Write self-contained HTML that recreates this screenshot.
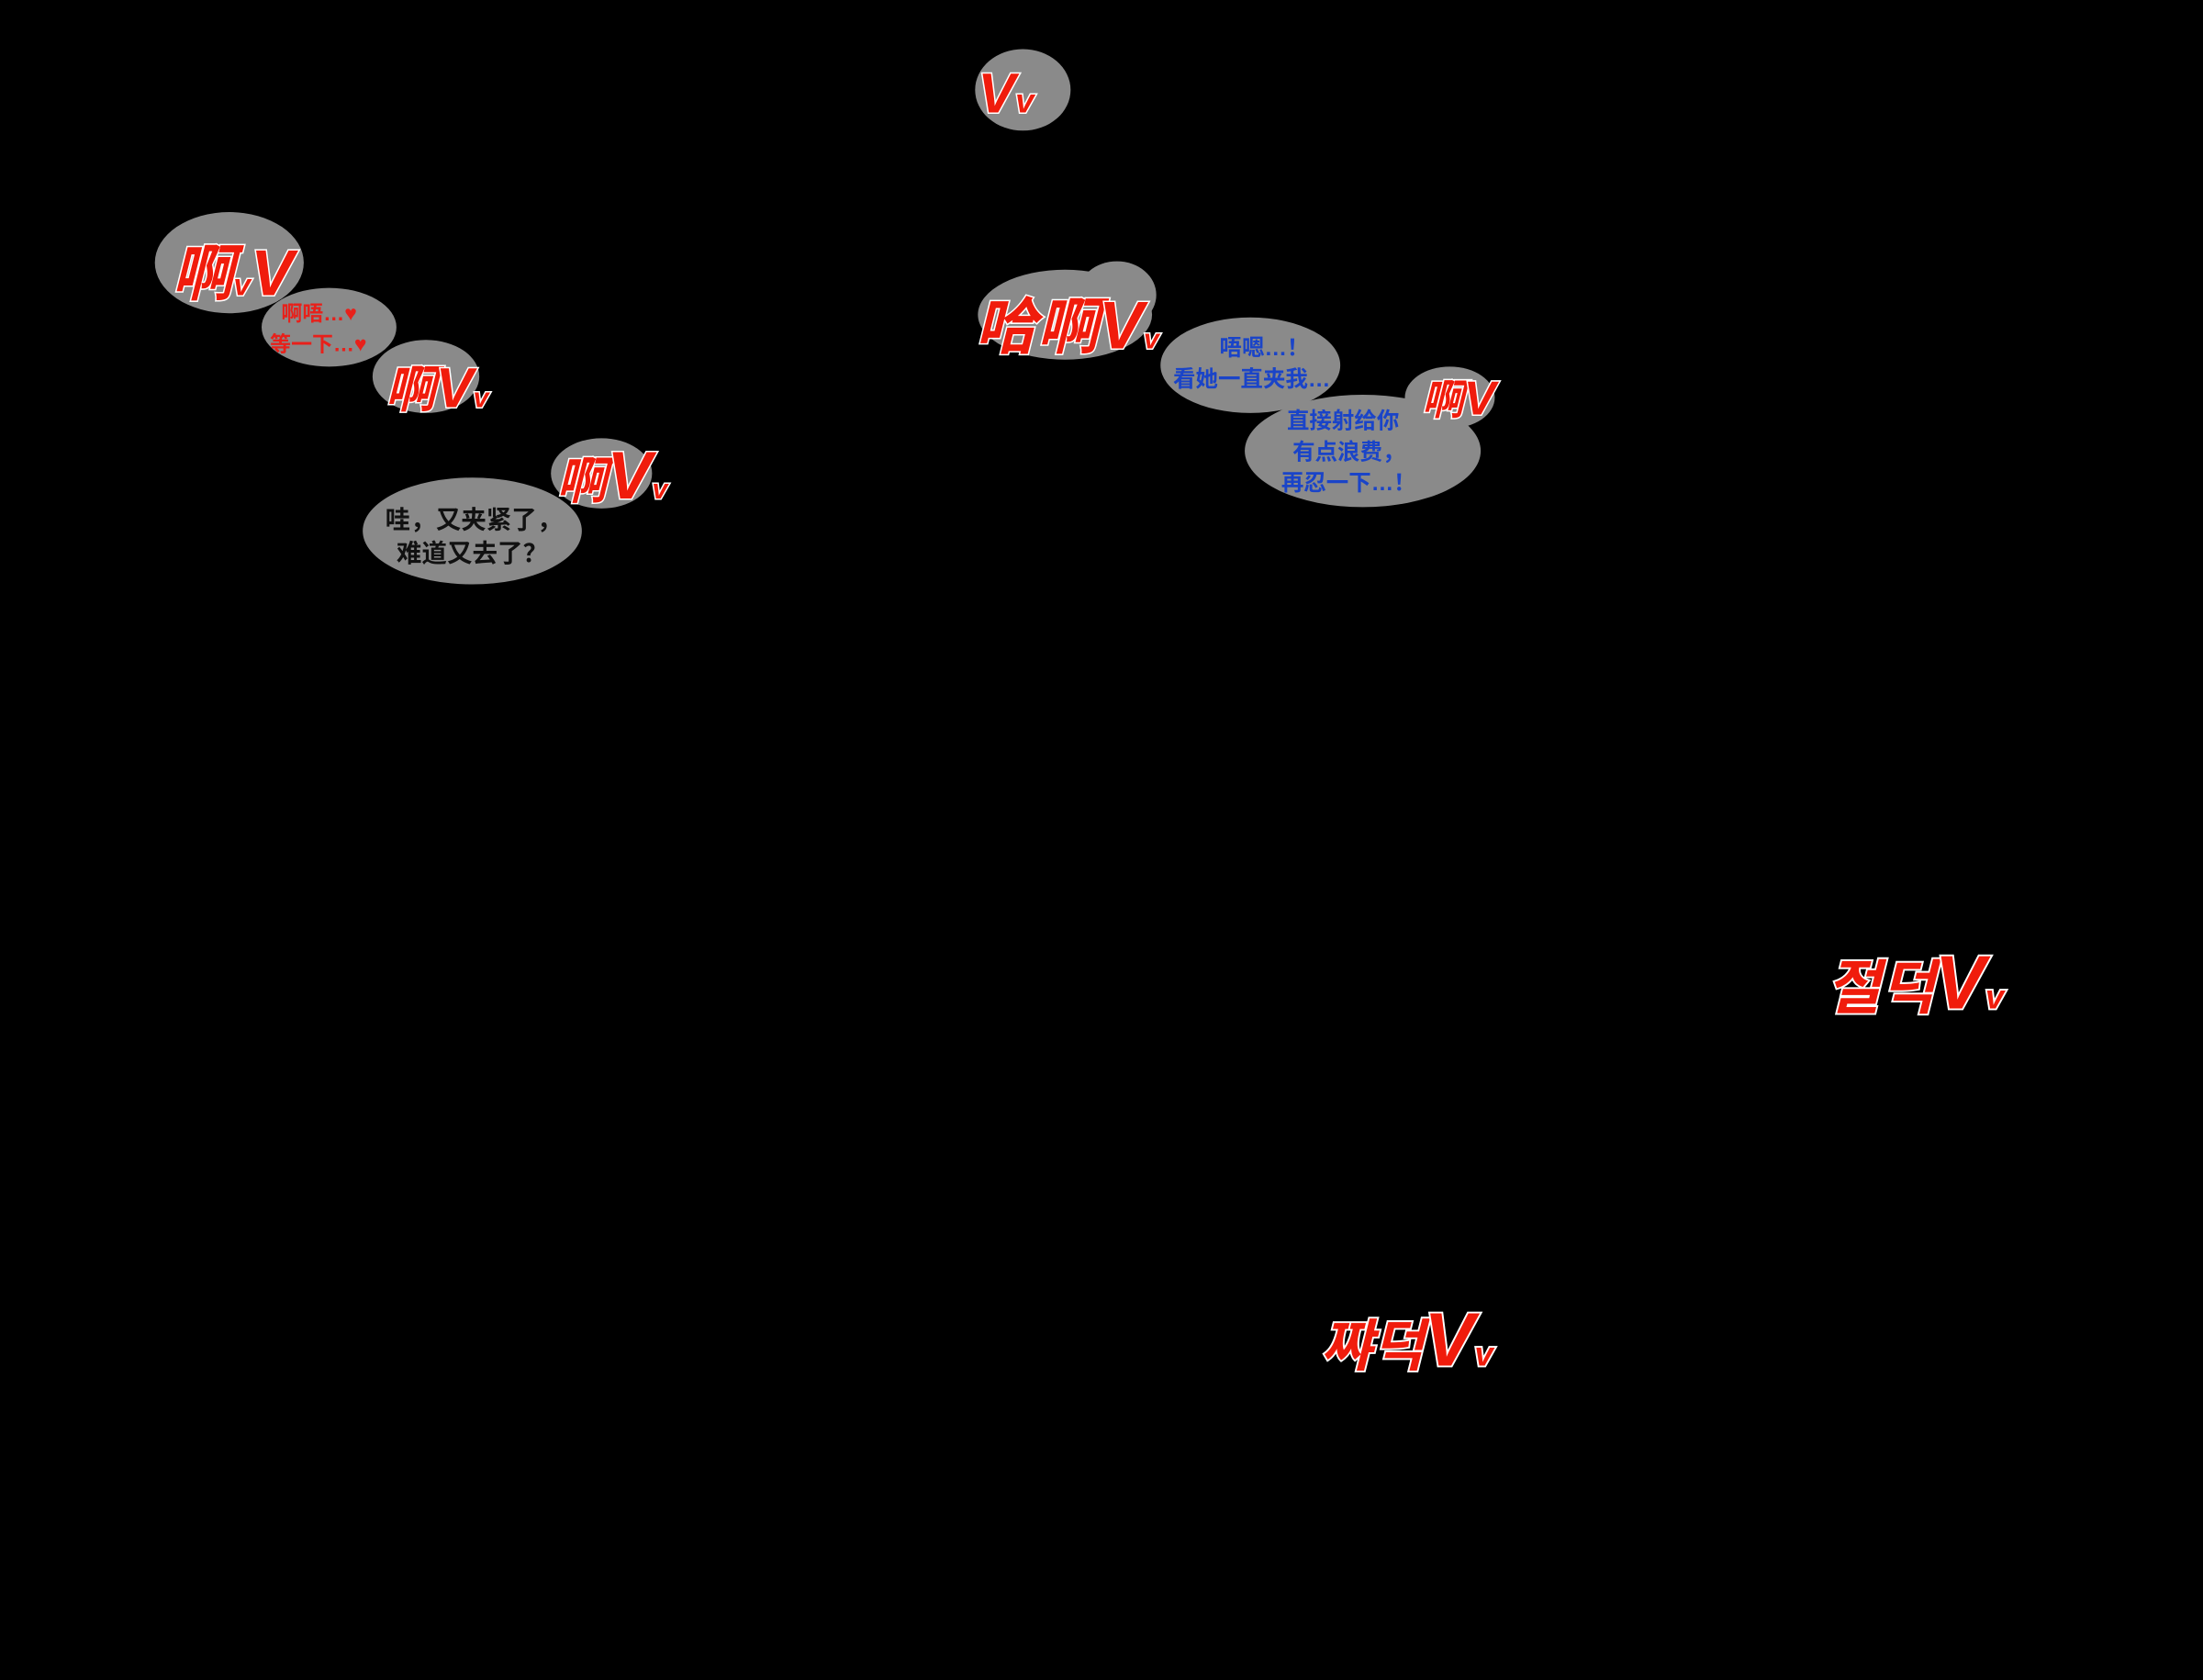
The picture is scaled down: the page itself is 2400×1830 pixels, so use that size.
<!DOCTYPE html>
<html><head><meta charset="utf-8">
<style>
html,body{margin:0;padding:0;background:#000;}
svg{display:block;}
.sfx{font-family:"Liberation Sans","Noto Sans CJK SC",sans-serif;font-weight:bold;fill:#f01c0c;stroke:#fff;stroke-width:2;paint-order:stroke;font-style:italic;}
.kr{font-family:"Liberation Sans","Noto Sans CJK KR",sans-serif;font-weight:bold;fill:#f01c0c;stroke:#fff;stroke-width:2.5;paint-order:stroke;font-style:italic;}
.red{font-family:"Liberation Sans","Noto Sans CJK SC",sans-serif;font-weight:bold;fill:#e8201a;font-size:15px;}
.blk{font-family:"Liberation Sans","Noto Sans CJK SC",sans-serif;font-weight:bold;fill:#111;font-size:18px;}
.blu{font-family:"Liberation Sans","Noto Sans CJK SC",sans-serif;font-weight:bold;fill:#1a44c8;font-size:16px;}
</style></head>
<body>
<svg width="2400" height="1830" viewBox="0 0 1568 1196" xmlns="http://www.w3.org/2000/svg">
<rect width="1568" height="1196" fill="#000"/>
<g fill="#8a8a8a">
<ellipse cx="728" cy="64" rx="34" ry="29"/>
<ellipse cx="163" cy="187" rx="53" ry="36"/>
<ellipse cx="234" cy="233" rx="48" ry="28"/>
<ellipse cx="303" cy="268" rx="38" ry="26"/>
<ellipse cx="428" cy="337" rx="36" ry="25"/>
<ellipse cx="336" cy="378" rx="78" ry="38"/>
<ellipse cx="758" cy="224" rx="62" ry="32"/>
<ellipse cx="795" cy="210" rx="28" ry="24"/>
<ellipse cx="890" cy="260" rx="64" ry="34"/>
<ellipse cx="1032" cy="283" rx="32" ry="22"/>
<ellipse cx="970" cy="321" rx="84" ry="40"/>
</g>
<text class="sfx" x="696" y="80" font-size="40">V<tspan font-size="24">v</tspan></text>
<text class="sfx" x="122" y="210" font-size="44">啊<tspan font-size="22">v</tspan><tspan font-size="46">V</tspan></text>
<text class="red" x="200" y="228">啊唔…♥</text>
<text class="red" x="192" y="250">等一下…♥</text>
<text class="sfx" x="274" y="290" font-size="36">啊<tspan font-size="40">V</tspan><tspan font-size="20">v</tspan></text>
<text class="sfx" x="396" y="355" font-size="36">啊<tspan font-size="48">V</tspan><tspan font-size="20">v</tspan></text>
<text class="blk" x="274" y="376">哇，又夹紧了，</text>
<text class="blk" x="282" y="400">难道又去了？</text>
<text class="sfx" x="694" y="248" font-size="44">哈啊<tspan font-size="48">V</tspan><tspan font-size="20">v</tspan></text>
<text class="blu" x="868" y="253">唔嗯…！</text>
<text class="blu" x="835" y="275">看她一直夹我…</text>
<text class="sfx" x="1012" y="295" font-size="30">啊<tspan font-size="34">V</tspan></text>
<text class="blu" x="916" y="305">直接射给你</text>
<text class="blu" x="920" y="327">有点浪费，</text>
<text class="blu" x="912" y="349">再忍一下…！</text>
<text class="kr" x="1300" y="718" font-size="42">절덕<tspan font-size="54">V</tspan><tspan font-size="24">v</tspan></text>
<text class="kr" x="940" y="972" font-size="40">쨔덕<tspan font-size="54">V</tspan><tspan font-size="24">v</tspan></text>
</svg>
</body></html>
